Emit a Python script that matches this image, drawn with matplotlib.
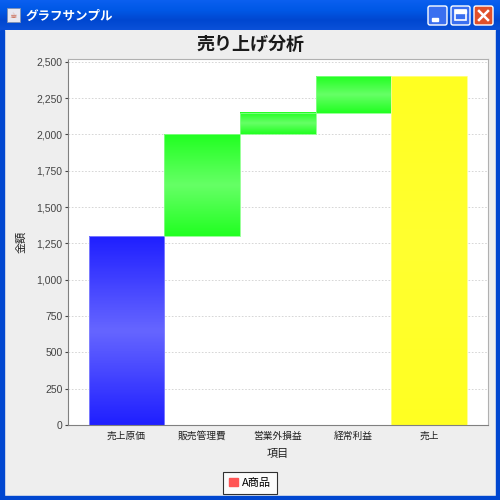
import matplotlib.pyplot as plt
import matplotlib.patches as mpatches
from matplotlib.colors import LinearSegmentedColormap
import numpy as np

plt.rcParams['font.family'] = ['Noto Sans CJK JP', 'DejaVu Sans']

# data
categories = ['売上原価', '販売管理費', '営業外損益', '経常利益', '売上']
values = [1300, 700, 150, 250, 2400]
is_total = [False, False, False, False, True]
series_name = 'A商品'

# waterfall bottoms
bottoms = []
running = 0
for v, t in zip(values, is_total):
    if t:
        bottoms.append(0)
    else:
        bottoms.append(running)
        running += v

fig = plt.figure(figsize=(5, 5), dpi=100)
fig.patch.set_facecolor('#eeeeee')

# window frame (decoration)
frame = fig.add_axes([0, 0, 1, 1], zorder=-5)
frame.set_xlim(0, 500)
frame.set_ylim(500, 0)
frame.axis('off')
grad = np.linspace(0, 1, 30).reshape(-1, 1)
tb_cmap = LinearSegmentedColormap.from_list('tb', ['#0a5fef', '#0058e6', '#0047d0', '#0a50d8'])
frame.imshow(grad, cmap=tb_cmap, extent=[0, 500, 30, 0], aspect='auto')
frame.add_patch(mpatches.Rectangle((0, 30), 4, 470, color='#0047d0'))
frame.add_patch(mpatches.Rectangle((496, 30), 4, 470, color='#0047d0'))
frame.add_patch(mpatches.Rectangle((0, 496), 500, 4, color='#0047d0'))
frame.text(26, 16, 'グラフサンプル', color='white', fontsize=9, fontweight='bold', va='center')
frame.add_patch(mpatches.Rectangle((7, 8), 13, 14, facecolor='#e8e8f0', edgecolor='#8090b0', lw=0.6))
frame.text(13.5, 15, '☕', fontsize=6, color='#c04020', ha='center', va='center')
for bx, col in [(428, '#3a6ff0'), (451, '#3a6ff0'), (474, '#e0502a')]:
    frame.add_patch(mpatches.FancyBboxPatch((bx, 6), 19, 19, boxstyle='round,pad=0,rounding_size=2',
                                            facecolor=col, edgecolor='white', lw=1))
frame.add_patch(mpatches.Rectangle((432, 18), 6, 2.5, color='white'))
frame.add_patch(mpatches.Rectangle((455, 10), 11, 10, facecolor='none', edgecolor='white', lw=1.2))
frame.add_patch(mpatches.Rectangle((455, 10), 11, 2.5, color='white'))
frame.plot([479, 488], [11, 20], color='white', lw=1.8)
frame.plot([479, 488], [20, 11], color='white', lw=1.8)

ax = fig.add_axes([0.136, 0.15, 0.84, 0.733])
ax.set_facecolor('white')

bars = ax.bar(range(len(categories)), values, bottom=bottoms, width=1.0,
              facecolor='none', edgecolor='none')

blue = LinearSegmentedColormap.from_list('b', ['#2020ff', '#6666ff', '#2020ff'])
green = LinearSegmentedColormap.from_list('g', ['#22ff22', '#66ff66', '#22ff22'])
yellow = LinearSegmentedColormap.from_list('y', ['#ffff22', '#ffff30', '#ffff22'])
edges = ['#8888ff', '#88ff88', '#88ff88', '#88ff88', '#ffff88']
for i, b in enumerate(bars):
    if i == 0:
        cm = blue
    elif is_total[i]:
        cm = yellow
    else:
        cm = green
    x0, y0, w, h = b.get_x(), b.get_y(), b.get_width(), b.get_height()
    ax.imshow(np.linspace(0, 1, 64).reshape(-1, 1), cmap=cm,
              extent=[x0, x0 + w, y0, y0 + h], aspect='auto', zorder=2)
    ax.add_patch(mpatches.Rectangle((x0, y0), w, h, facecolor='none',
                                    edgecolor=edges[i], lw=0.6, zorder=3))

ax.set_xlim(-0.774, 4.78)
ax.set_ylim(0, 2522)
ax.set_yticks(range(0, 2501, 250))
ax.set_yticklabels([f'{v:,}' for v in range(0, 2501, 250)], family='Liberation Sans')
ax.set_xticks(range(len(categories)))
ax.set_xticklabels(categories)
ax.tick_params(axis='y', labelsize=7.5, colors='#444444', length=2, width=0.8, pad=2)
ax.tick_params(axis='x', labelsize=7, colors='#222222', length=0, pad=4)
ax.grid(axis='y', color='#d0d0d0', linestyle=(0, (2, 2)), lw=0.6, zorder=0)
ax.set_axisbelow(True)
for s in ['left', 'bottom']:
    ax.spines[s].set_color('#808080')
for s in ['top', 'right']:
    ax.spines[s].set_color('#b0b0b0')

ax.set_xlabel('項目', fontsize=8, color='#222222', labelpad=6)
ax.set_ylabel('金額', fontsize=8, color='#222222', labelpad=7)
fig.text(0.5, 0.912, '売り上げ分析', fontsize=13, fontweight='bold', ha='center', va='center', color='#1a1a1a')

handle = mpatches.Patch(color='#ff5555', label=series_name)
leg = fig.legend(handles=[handle], loc='center', bbox_to_anchor=(0.5, 0.034), fontsize=8,
                 frameon=True, fancybox=False, handlelength=0.8, handleheight=0.8,
                 handletextpad=0.4, borderpad=0.5, borderaxespad=0)
leg.get_frame().set_edgecolor('black')
leg.get_frame().set_linewidth(0.8)
leg.get_frame().set_facecolor('white')

fig.savefig('out.png', dpi=100, facecolor=fig.get_facecolor())
